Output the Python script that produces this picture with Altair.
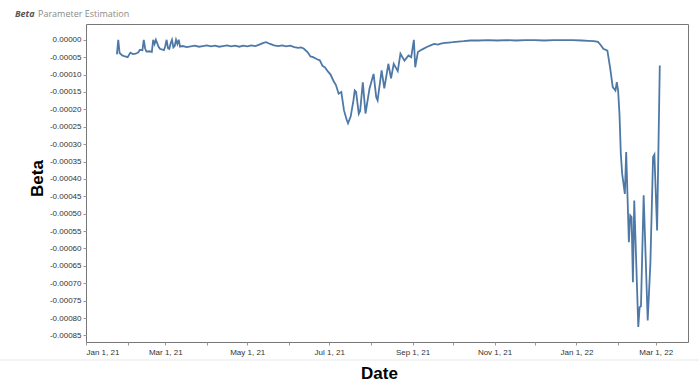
import altair as alt
import pandas as pd

dates = [
    "2021-01-24", "2021-01-25", "2021-01-26", "2021-01-28", "2021-01-30", "2021-02-01",
    "2021-02-03", "2021-02-05", "2021-02-07", "2021-02-09", "2021-02-10", "2021-02-12",
    "2021-02-13", "2021-02-14", "2021-02-15", "2021-02-17", "2021-02-19", "2021-02-20",
    "2021-02-21", "2021-02-22", "2021-02-24", "2021-02-25", "2021-02-28", "2021-03-01",
    "2021-03-02", "2021-03-03", "2021-03-04", "2021-03-05", "2021-03-06", "2021-03-07",
    "2021-03-08", "2021-03-09", "2021-03-10", "2021-03-11", "2021-03-12", "2021-03-14",
    "2021-03-17", "2021-03-20", "2021-03-23", "2021-03-26", "2021-03-29", "2021-04-01",
    "2021-04-04", "2021-04-07", "2021-04-10", "2021-04-13", "2021-04-16", "2021-04-19",
    "2021-04-22", "2021-04-25", "2021-04-28", "2021-05-01", "2021-05-04", "2021-05-07",
    "2021-05-10", "2021-05-13", "2021-05-15", "2021-05-18", "2021-05-21", "2021-05-24",
    "2021-05-27", "2021-05-30", "2021-06-02", "2021-06-05", "2021-06-08", "2021-06-10",
    "2021-06-12", "2021-06-15", "2021-06-17", "2021-06-19", "2021-06-22", "2021-06-24",
    "2021-06-26", "2021-06-28", "2021-06-30", "2021-07-02", "2021-07-04", "2021-07-06",
    "2021-07-08", "2021-07-10", "2021-07-12", "2021-07-14", "2021-07-15", "2021-07-17",
    "2021-07-19", "2021-07-20", "2021-07-21", "2021-07-23", "2021-07-24", "2021-07-26",
    "2021-07-28", "2021-07-31", "2021-08-03", "2021-08-05", "2021-08-06", "2021-08-09",
    "2021-08-11", "2021-08-14", "2021-08-16", "2021-08-18", "2021-08-21", "2021-08-23",
    "2021-08-26", "2021-08-29", "2021-08-31", "2021-09-02", "2021-09-03", "2021-09-05",
    "2021-09-07", "2021-09-09", "2021-09-12", "2021-09-14", "2021-09-17", "2021-09-20",
    "2021-09-22", "2021-09-25", "2021-09-28", "2021-10-01", "2021-10-05", "2021-10-09",
    "2021-10-14", "2021-10-20", "2021-10-27", "2021-11-03", "2021-11-10", "2021-11-17",
    "2021-11-24", "2021-12-01", "2021-12-08", "2021-12-15", "2021-12-22", "2021-12-29",
    "2022-01-05", "2022-01-10", "2022-01-14", "2022-01-17", "2022-01-19", "2022-01-21",
    "2022-01-24", "2022-01-26", "2022-01-28", "2022-01-30", "2022-01-31", "2022-02-01",
    "2022-02-02", "2022-02-03", "2022-02-04", "2022-02-06", "2022-02-07", "2022-02-09",
    "2022-02-10", "2022-02-11", "2022-02-12", "2022-02-13", "2022-02-16", "2022-02-17",
    "2022-02-18", "2022-02-20", "2022-02-23", "2022-02-25", "2022-02-27", "2022-02-28",
    "2022-03-02", "2022-03-04",
]

beta = [
    -0.000042, 0.000000, -0.000038, -0.000045, -0.000048, -0.000050,
    -0.000037, -0.000041, -0.000040, -0.000036, -0.000029, -0.000030,
    0.000000, -0.000025, -0.000034, -0.000033, -0.000035, 0.000000,
    -0.000012, 0.000000, -0.000020, -0.000026, -0.000030, -0.000018,
    0.000000, -0.000024, -0.000026, -0.000010, 0.000000, -0.000022,
    -0.000018, 0.000000, -0.000012, 0.000000, -0.000020, -0.000018,
    -0.000021, -0.000019, -0.000017, -0.000020, -0.000018, -0.000016,
    -0.000019, -0.000017, -0.000020, -0.000018, -0.000016, -0.000019,
    -0.000017, -0.000020, -0.000017, -0.000019, -0.000016, -0.000018,
    -0.000014, -0.000009, -0.000007, -0.000012, -0.000016, -0.000018,
    -0.000016, -0.000019, -0.000017, -0.000021, -0.000023, -0.000022,
    -0.000025, -0.000036, -0.000048, -0.000050, -0.000056, -0.000059,
    -0.000075, -0.000080, -0.000091, -0.000100, -0.000117, -0.000130,
    -0.000155, -0.000150, -0.000203, -0.000230, -0.000240, -0.000220,
    -0.000175, -0.000146, -0.000150, -0.000213, -0.000205, -0.000122,
    -0.000212, -0.000140, -0.000098, -0.000165, -0.000174, -0.000088,
    -0.000140, -0.000069, -0.000111, -0.000069, -0.000090, -0.000040,
    -0.000060, -0.000045, -0.000050, 0.000000, -0.000079, -0.000035,
    -0.000030, -0.000026, -0.000020, -0.000017, -0.000012, -0.000014,
    -0.000011, -0.000009, -0.000008, -0.000007, -0.000005, -0.000004,
    -0.000002, -0.000002, -0.000001, -0.000002, -0.000001, -0.000002,
    -0.000001, -0.000001, -0.000002, -0.000001, -0.000001, -0.000001,
    -0.000002, -0.000003, -0.000004, -0.000006, -0.000015, -0.000026,
    -0.000031, -0.000079, -0.000136, -0.000146, -0.000122, -0.000146,
    -0.000213, -0.000328, -0.000385, -0.000443, -0.000323, -0.000582,
    -0.000505, -0.000510, -0.000697, -0.000462, -0.000826, -0.000769,
    -0.000766, -0.000447, -0.000807, -0.000643, -0.000337, -0.000330,
    -0.000548, -0.000074,
]

y_ticks = [0.0, -0.00005, -0.0001, -0.00015, -0.0002, -0.00025, -0.0003, -0.00035,
           -0.0004, -0.00045, -0.0005, -0.00055, -0.0006, -0.00065, -0.0007,
           -0.00075, -0.0008, -0.00085]

title_parts = ["Beta", "Parameter Estimation"]

df = pd.DataFrame({"Date": dates, "Beta": beta})

line = alt.Chart(df).mark_line(color="#4e79a7", strokeWidth=1.8).encode(
    x=alt.X(
        "Date:T",
        scale=alt.Scale(
            type="utc",
            domain=[alt.DateTime(year=2021, month=1, date=1, utc=True),
                    alt.DateTime(year=2022, month=3, date=25, utc=True)],
            nice=False,
        ),
        axis=alt.Axis(
            title="Date",
            tickCount={"interval": "month", "step": 1},
            labelExpr="utcmonth(datum.value) % 2 == 0 ? utcFormat(datum.value, '%b %-d, %y') : ''",
            labelOverlap=False,
            labelFlush=True,
            labelFont="Liberation Sans",
            labelFontSize=8,
            labelColor="#333333",
            labelPadding=3,
            tickSize=3,
            tickColor="#999999",
            domain=False,
            grid=False,
            titleFont="Liberation Sans",
            titleFontSize=17,
            titleFontWeight="bold",
            titleColor="#000000",
            titleX=293,
            titleY=31,
            titleBaseline="middle",
            titleAlign="center",
        ),
    ),
    y=alt.Y(
        "Beta:Q",
        scale=alt.Scale(domain=[-0.000869, 0.0000454], nice=False, zero=False),
        axis=alt.Axis(
            title="Beta",
            values=y_ticks,
            labelExpr="replace(format(datum.value, '.5f'), '\u2212', '-')",
            labelFont="Liberation Sans",
            labelFontSize=8,
            labelColor="#333333",
            labelPadding=2,
            tickSize=3,
            tickColor="#999999",
            domain=False,
            grid=False,
            titleFont="Liberation Sans",
            titleFontSize=17,
            titleFontWeight="bold",
            titleColor="#000000",
            titleX=-49,
            titleY=154,
            titleBaseline="middle",
            titleAlign="center",
            titleAngle=-90,
        ),
    ),
)

t1 = alt.Chart(pd.DataFrame({"t": [title_parts[0]]})).mark_text(
    align="left", baseline="middle", font="Open Sans", fontSize=9,
    fontStyle="italic", fontWeight="bold", color="#555555",
).encode(text="t:N", x=alt.value(-71), y=alt.value(-10))

t2 = alt.Chart(pd.DataFrame({"t": [title_parts[1]]})).mark_text(
    align="left", baseline="middle", font="Open Sans", fontSize=9,
    color="#8a8a8a",
).encode(text="t:N", x=alt.value(-48), y=alt.value(-10))

sep = alt.Chart(pd.DataFrame({"a": [0]})).mark_rule(color="#e8e8e8", strokeWidth=1).encode(
    x=alt.value(-86), x2=alt.value(613), y=alt.value(336)
)

chart = alt.layer(sep, line, t1, t2).properties(
    width=602,
    height=318,
    padding={"left": 86, "top": 24, "right": 11, "bottom": 39},
    autosize=alt.AutoSizeParams(type="none"),
).configure_view(stroke="#777777", strokeWidth=1)

chart.save("out.html", embed_options={"renderer": "svg", "actions": False})
